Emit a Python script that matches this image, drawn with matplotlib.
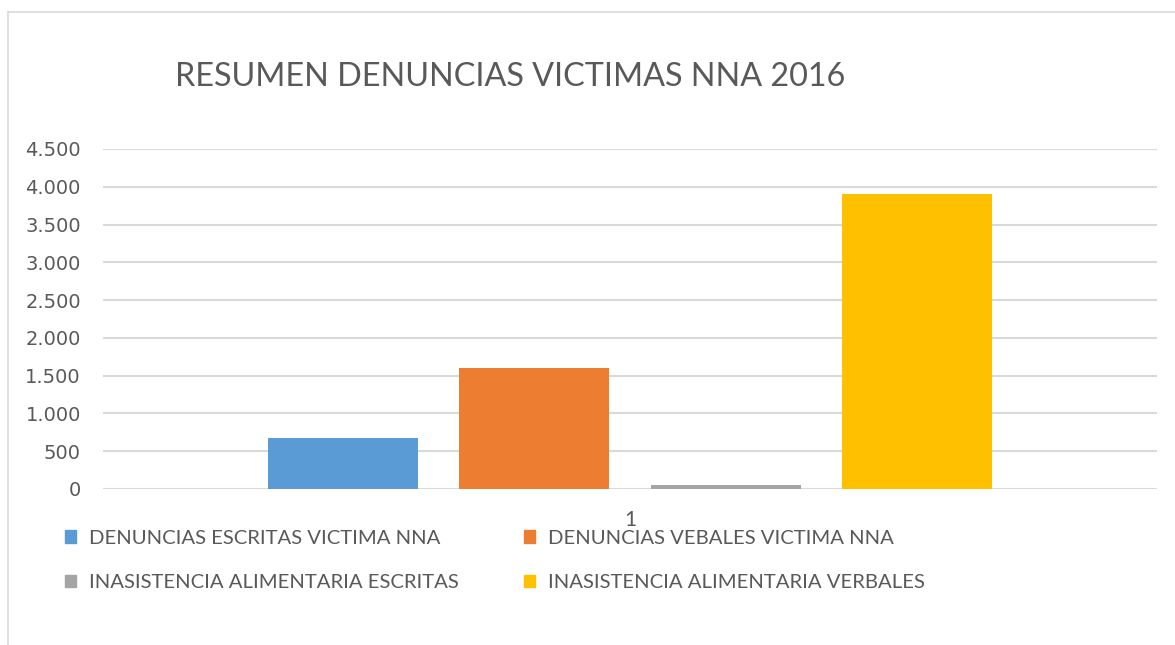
import matplotlib
matplotlib.use('Agg')
import matplotlib.pyplot as plt
from matplotlib.lines import Line2D
from matplotlib.patches import Patch

# data
series = ['DENUNCIAS ESCRITAS VICTIMA NNA', 'DENUNCIAS VEBALES VICTIMA NNA',
          'INASISTENCIA ALIMENTARIA ESCRITAS', 'INASISTENCIA ALIMENTARIA VERBALES']
values = [670, 1600, 55, 3900]
colors = ['#5b9bd5', '#ed7d31', '#a5a5a5', '#ffc000']
category = ['1']
yticks = [0, 500, 1000, 1500, 2000, 2500, 3000, 3500, 4000, 4500]
ytick_labels = ['0', '500', '1.000', '1.500', '2.000', '2.500', '3.000', '3.500', '4.000', '4.500']

txt = '#595959'
narrow = ['Lato', 'DejaVu Sans']

fig = plt.figure(figsize=(11.75, 6.45), dpi=100)
ax = fig.add_axes([0.0877, 0.2419, 0.8970, 0.5271])

width = 0.1423
step = 0.1817
offsets = [(i - 1.5) * step for i in range(len(series))]
for off, v, c, name in zip(offsets, values, colors, series):
    ax.bar(0 + off, v, width=width, color=c, label=name, zorder=3)

ax.set_xlim(-0.5, 0.5)
ax.set_ylim(0, 4500)
ax.set_yticks(yticks)
ax.set_yticklabels(ytick_labels, color=txt, fontsize=14, family='DejaVu Sans')
ax.set_xticks([0])
ax.set_xticklabels(category, color=txt, fontsize=15, family=narrow)
ax.tick_params(length=0)
ax.tick_params(axis='y', pad=16)
ax.tick_params(axis='x', pad=15)
ax.grid(axis='y', color='#d9d9d9', lw=1.5, zorder=0)
for s in ax.spines.values():
    s.set_visible(False)

fig.text(0.149, 0.88, 'RESUMEN DENUNCIAS VICTIMAS NNA 2016', color=txt,
         fontsize=23.3, family=narrow, va='center', ha='left')

# matplotlib fills legend columns first, so reorder to get row-wise layout
order = [0, 2, 1, 3]
handles = [Patch(color=colors[i]) for i in order]
labels = [series[i] for i in order]
leg = fig.legend(handles, labels, ncol=2, loc='upper left',
                 bbox_to_anchor=(0.040, 0.207), frameon=False,
                 prop={'family': narrow, 'size': 14.6},
                 handlelength=0.55, handleheight=0.55, handletextpad=0.6,
                 columnspacing=3.25, labelspacing=1.35)
for t in leg.get_texts():
    t.set_color(txt)

# light outer frame of the chart area
fig.add_artist(Line2D([0.007, 1.0], [0.981, 0.981], color='#d9d9d9', lw=1.2))
fig.add_artist(Line2D([0.007, 0.007], [0.0, 0.981], color='#d9d9d9', lw=1.2))

fig.savefig('out.png', dpi=100)
